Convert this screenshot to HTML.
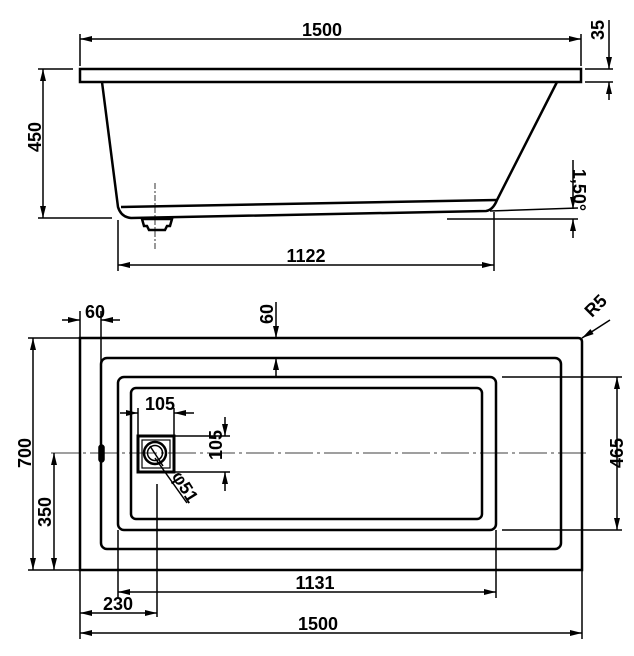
<!DOCTYPE html>
<html><head><style>
html,body{margin:0;padding:0;background:#fff;}
svg{display:block;}
text{font-family:"Liberation Sans",Arial,sans-serif;font-weight:bold;font-size:18px;fill:#000;}
</style></head><body>
<svg width="634" height="656" viewBox="0 0 634 656" xmlns="http://www.w3.org/2000/svg">
<defs>
<marker id="a" viewBox="0 0 12 6" refX="12" refY="3" markerWidth="12" markerHeight="6" markerUnits="userSpaceOnUse" orient="auto-start-reverse"><path d="M0,0 L12,3 L0,6 z" fill="#000"/></marker>
</defs>
<g stroke="#000" fill="none" stroke-width="1.5">
<!-- TOP VIEW -->
<rect x="80" y="69" width="501" height="13" stroke-width="2.5"/>
<line x1="80" y1="39" x2="581" y2="39" marker-start="url(#a)" marker-end="url(#a)"/>
<line x1="80" y1="34" x2="80" y2="66"/>
<line x1="581" y1="34" x2="581" y2="66"/>
<line x1="585" y1="69" x2="613" y2="69"/>
<line x1="585" y1="82" x2="613" y2="82"/>
<line x1="609" y1="20" x2="609" y2="69" marker-end="url(#a)"/>
<line x1="609" y1="100" x2="609" y2="82" marker-end="url(#a)"/>
<path d="M102,82 L118,207 Q121,217 131,218 L486,211 Q493,210 497,200 L557,82" stroke-width="2.5"/>
<path d="M121,207 L497,200" stroke-width="2.5"/>
<line x1="38" y1="69" x2="73" y2="69"/>
<line x1="38" y1="218" x2="112" y2="218"/>
<line x1="43" y1="69" x2="43" y2="218" marker-start="url(#a)" marker-end="url(#a)"/>
<path d="M142,219 h30 l-2,7 h-3 l-2,4 h-16 l-2,-4 h-3 z" stroke-width="2.5"/>
<line x1="155" y1="183" x2="155" y2="250" stroke-dasharray="6,2,2,2" stroke-width="0.8"/>
<line x1="118" y1="220" x2="118" y2="271"/>
<line x1="494" y1="212" x2="494" y2="271"/>
<line x1="118" y1="265" x2="494" y2="265" marker-start="url(#a)" marker-end="url(#a)"/>
<line x1="490" y1="211" x2="578" y2="208"/>
<line x1="447" y1="219" x2="578" y2="219"/>
<line x1="573" y1="160" x2="573" y2="209" marker-end="url(#a)"/>
<line x1="573" y1="238" x2="573" y2="219" marker-end="url(#a)"/>

<!-- PLAN VIEW -->
<path d="M80,338 L578,338 Q582,338 582,342 L582,570 L80,570 Z" stroke-width="2.5"/>
<rect x="101" y="358" width="460" height="191" rx="6" stroke-width="2.5"/>
<rect x="118" y="377" width="378" height="153" rx="6" stroke-width="2.5"/>
<rect x="131" y="388" width="351" height="131" rx="5" stroke-width="2.5"/>
<line x1="51" y1="453" x2="590" y2="453" stroke-dasharray="28,4,3,4" stroke-width="0.8"/>
<rect x="99" y="445" width="5" height="17" rx="2.5" fill="#000"/>
<rect x="138" y="436" width="36" height="36" stroke-width="3"/>
<rect x="142" y="440" width="28" height="28" stroke-width="1.2"/>
<circle cx="155" cy="453" r="11" stroke-width="2.5"/>
<circle cx="155" cy="453" r="7.5" stroke-width="1.5"/>
<line x1="150" y1="446" x2="163" y2="466"/>
<line x1="155" y1="458" x2="187" y2="503"/>
<line x1="157" y1="484" x2="157" y2="617"/>
<!-- 700/350 -->
<line x1="28" y1="338" x2="80" y2="338"/>
<line x1="28" y1="570" x2="80" y2="570"/>
<line x1="33" y1="338" x2="33" y2="570" marker-start="url(#a)" marker-end="url(#a)"/>
<line x1="54" y1="453" x2="54" y2="570" marker-start="url(#a)" marker-end="url(#a)"/>
<!-- 60 left -->
<line x1="80" y1="311" x2="80" y2="338"/>
<line x1="101" y1="311" x2="101" y2="446"/>
<line x1="62" y1="320" x2="80" y2="320" marker-end="url(#a)"/>
<line x1="120" y1="320" x2="101" y2="320" marker-end="url(#a)"/>
<!-- 60 top -->
<line x1="276" y1="302" x2="276" y2="338" marker-end="url(#a)"/>
<line x1="276" y1="377" x2="276" y2="358" marker-end="url(#a)"/>
<!-- R5 -->
<line x1="610" y1="320" x2="582" y2="338" marker-end="url(#a)"/>
<!-- 465 -->
<line x1="502" y1="377" x2="622" y2="377"/>
<line x1="502" y1="530" x2="622" y2="530"/>
<line x1="617" y1="377" x2="617" y2="530" marker-start="url(#a)" marker-end="url(#a)"/>
<!-- 105 h -->
<line x1="138" y1="408" x2="138" y2="436"/>
<line x1="174" y1="408" x2="174" y2="436"/>
<line x1="120" y1="413" x2="138" y2="413" marker-end="url(#a)"/>
<line x1="194" y1="413" x2="174" y2="413" marker-end="url(#a)"/>
<!-- 105 v -->
<line x1="174" y1="436" x2="230" y2="436"/>
<line x1="174" y1="472" x2="230" y2="472"/>
<line x1="225" y1="417" x2="225" y2="436" marker-end="url(#a)"/>
<line x1="225" y1="491" x2="225" y2="472" marker-end="url(#a)"/>
<!-- bottom dims -->
<line x1="118" y1="530" x2="118" y2="598"/>
<line x1="496" y1="530" x2="496" y2="598"/>
<line x1="118" y1="592" x2="496" y2="592" marker-start="url(#a)" marker-end="url(#a)"/>
<line x1="80" y1="570" x2="80" y2="639"/>
<line x1="582" y1="570" x2="582" y2="639"/>
<line x1="80" y1="613" x2="157" y2="613" marker-start="url(#a)" marker-end="url(#a)"/>
<line x1="80" y1="633" x2="582" y2="633" marker-start="url(#a)" marker-end="url(#a)"/>
</g>
<g text-anchor="middle">
<text x="322" y="36">1500</text>
<text transform="translate(604,30) rotate(-90)">35</text>
<text transform="translate(41,137) rotate(-90)">450</text>
<text x="306" y="262">1122</text>
<text transform="translate(573,190) rotate(90)">1,50°</text>
<text x="95" y="318">60</text>
<text transform="translate(273,314) rotate(-90)">60</text>
<text transform="translate(600,310) rotate(-45)">R5</text>
<text transform="translate(31,453) rotate(-90)">700</text>
<text transform="translate(51,512) rotate(-90)">350</text>
<text transform="translate(623,453) rotate(-90)">465</text>
<text x="160" y="410">105</text>
<text transform="translate(222,445) rotate(-90)">105</text>
<text transform="translate(180,490) rotate(58)">φ51</text>
<text x="315" y="589">1131</text>
<text x="118" y="610">230</text>
<text x="318" y="630">1500</text>
</g>
</svg>
</body></html>
